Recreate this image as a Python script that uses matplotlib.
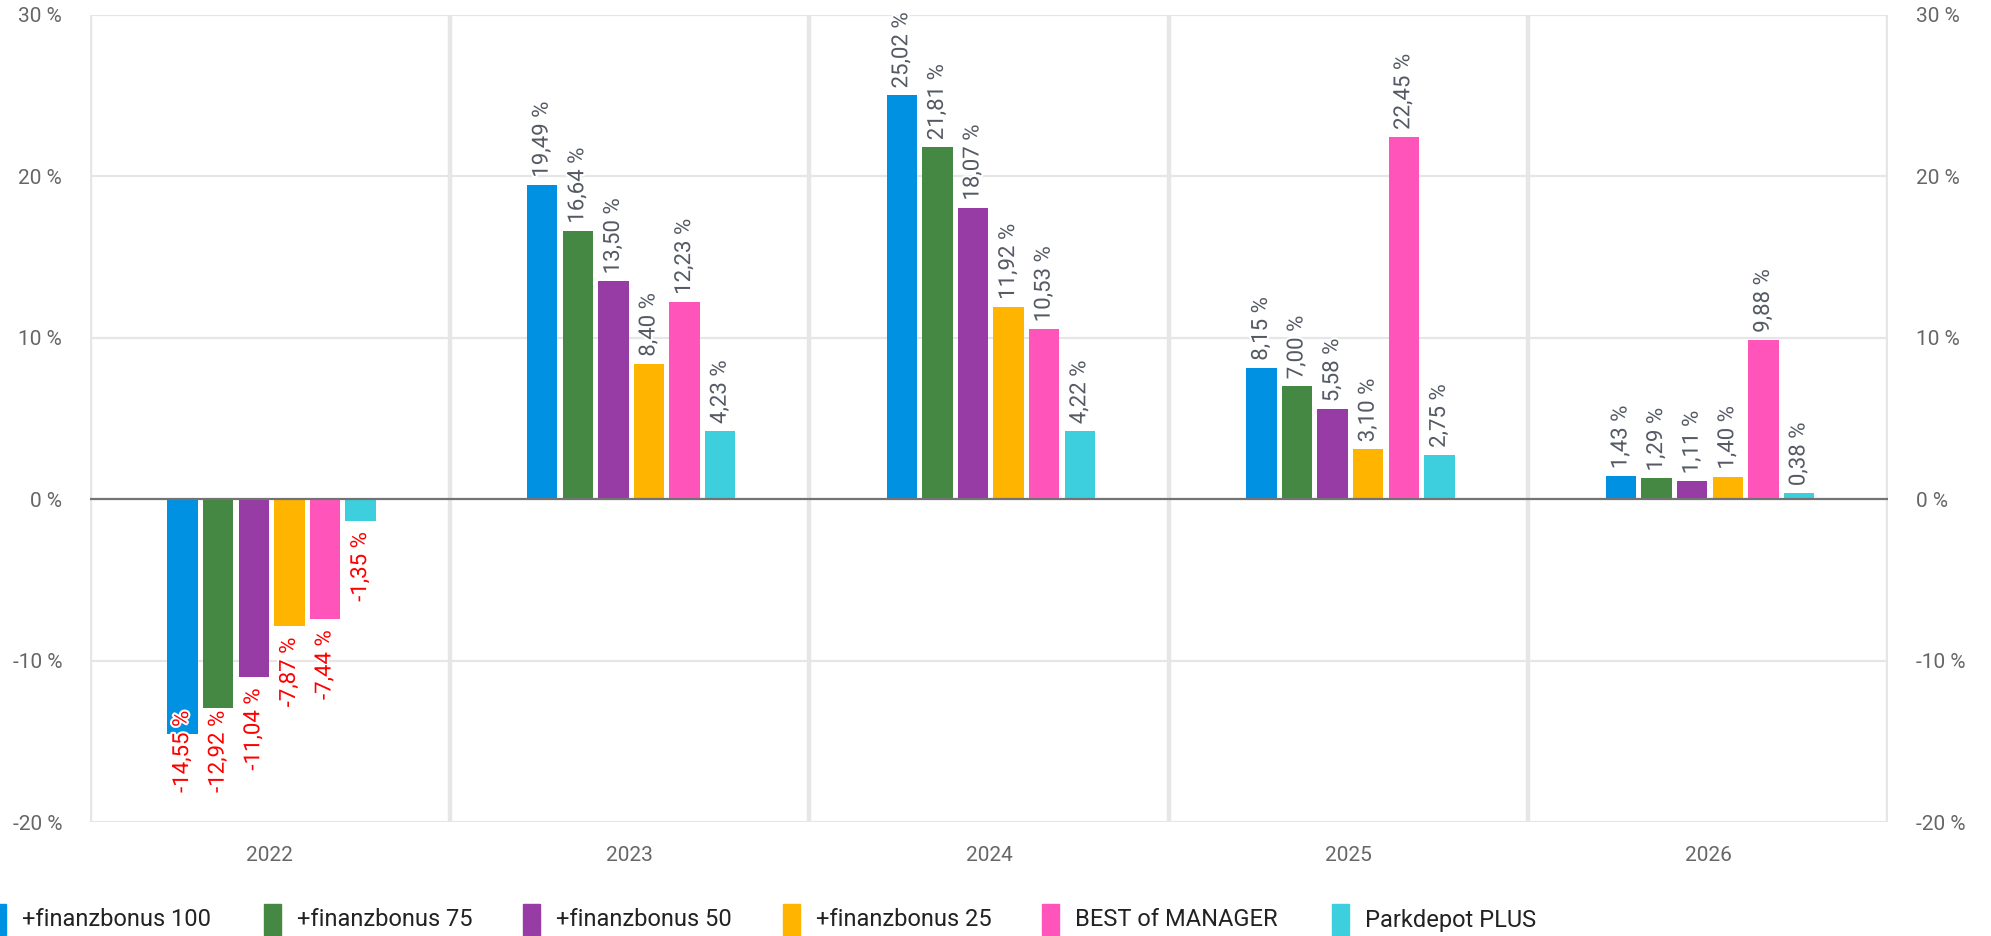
import matplotlib
matplotlib.use('Agg')
import matplotlib.pyplot as plt
import matplotlib.patheffects as pe
from matplotlib.patches import Rectangle
import numpy as np

plt.rcParams['font.family'] = ['Roboto', 'DejaVu Sans']

years = ['2022', '2023', '2024', '2025', '2026']
series_names = ['+finanzbonus 100', '+finanzbonus 75', '+finanzbonus 50',
                '+finanzbonus 25', 'BEST of MANAGER', 'Parkdepot PLUS']
fb100 = [-14.55, 19.49, 25.02, 8.15, 1.43]
fb75 = [-12.92, 16.64, 21.81, 7.00, 1.29]
fb50 = [-11.04, 13.50, 18.07, 5.58, 1.11]
fb25 = [-7.87, 8.40, 11.92, 3.10, 1.40]
best = [-7.44, 12.23, 10.53, 22.45, 9.88]
park = [-1.35, 4.23, 4.22, 2.75, 0.38]
yticks = [-20, -10, 0, 10, 20, 30]

series = [fb100, fb75, fb50, fb25, best, park]
colors = ['#0091e2', '#448844', '#963ca4', '#ffb400', '#ff55bb', '#3dcfdd']

W, H = 1991, 936
fig = plt.figure(figsize=(W / 100, H / 100), dpi=100)
ax = fig.add_axes([90 / W, 1 - 822 / H, (1888 - 90) / W, (822 - 15) / H])

x = np.arange(len(years))
step = 0.099
width = 0.085
grid_c = '#e6e6e6'

ax.set_xlim(-0.5, len(years) - 0.5)
ax.set_ylim(-20, 30)

# grid and frame
for t in yticks:
    if t != 0:
        ax.axhline(t, color=grid_c, lw=1.6, zorder=0)
for s in np.arange(0.5, len(years) - 0.5, 1):
    ax.axvline(s, color=grid_c, lw=3.2, zorder=0)
ax.axvline(-0.5, color=grid_c, lw=3.2, zorder=0)
ax.axvline(len(years) - 0.5, color=grid_c, lw=3.2, zorder=0)
for sp in ax.spines.values():
    sp.set_visible(False)

bars = []
for i, (vals, col) in enumerate(zip(series, colors)):
    pos = x + (i - 2.5) * step + 0.005
    ax.bar(pos, vals, width=width, color=col, zorder=2)
    bars.append((pos, vals))

ax.axhline(0, color='#737373', lw=1.6, zorder=3)

stroke = [pe.withStroke(linewidth=3, foreground='white')]
neg_texts = []
for pos, vals in bars:
    for xp, v in zip(pos, vals):
        lbl = f"{v:.2f}".replace('.', ',') + ' %'
        if v >= 0:
            ax.annotate(lbl, (xp, v), xytext=(0, 5), textcoords='offset points',
                        rotation=90, ha='center', va='bottom', fontsize=16,
                        color='#555a64', path_effects=stroke, zorder=4)
        else:
            t = ax.annotate(lbl, (xp, v), xytext=(0, -8), textcoords='offset points',
                            rotation=90, ha='center', va='top', fontsize=16,
                            color='#ff0000', path_effects=stroke, zorder=4)
            neg_texts.append((t, xp))

# keep negative labels inside the plot
fig.canvas.draw()
floor = -18.2
floor_px = ax.transData.transform((0, floor))[1]
for t, xp in neg_texts:
    bb = t.get_window_extent()
    if bb.y0 < floor_px:
        t.xy = (xp, floor)
        t.xyann = (0, 0)
        t.set_va('bottom')

ax.set_yticks(yticks)
ax.set_yticklabels([f"{t} %" for t in yticks])
ax.set_xticks(x)
ax.set_xticklabels(years)
ax.tick_params(axis='y', length=0, pad=20, labelsize=15, labelcolor='#666666',
               labelright=True)
ax.tick_params(axis='x', length=0, pad=17, labelsize=15, labelcolor='#666666')

# legend
leg_x = [-11, 264, 523, 783, 1042, 1332]
for lx, name, col in zip(leg_x, series_names, colors):
    fig.add_artist(Rectangle((lx / W, 1 - 935 / H), 17 / W, 31 / H,
                             transform=fig.transFigure, color=col))
    fig.text((lx + 33) / W, 1 - 920 / H, name, fontsize=17, color='#222222',
             va='center', ha='left')

fig.savefig('out.png', dpi=100)
